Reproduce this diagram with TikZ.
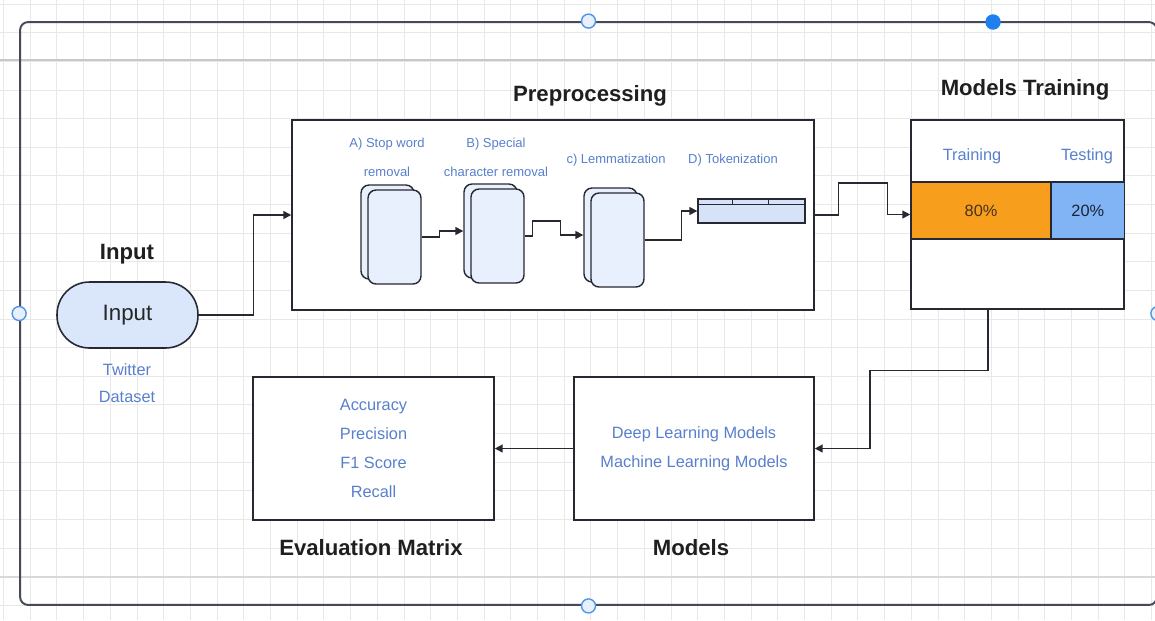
\documentclass[tikz,border=0pt]{standalone}
\usepackage{fontspec}
\setmainfont{Liberation Sans}
\usepackage{xcolor}
\definecolor{Stroke-dark}{RGB}{40, 40, 50}
\definecolor{Frame-gray}{RGB}{70, 74, 88}
\definecolor{Note-blue}{RGB}{88, 128, 205}
\definecolor{Doc-fill}{RGB}{232, 240, 253}
\definecolor{Input-fill}{RGB}{218, 230, 250}
\definecolor{Token-fill}{RGB}{214, 226, 248}
\definecolor{Train-orange}{RGB}{247, 158, 28}
\definecolor{Test-blue}{RGB}{128, 180, 245}
\definecolor{Handle-blue}{RGB}{30, 128, 240}
\definecolor{Handle-edge}{RGB}{80, 150, 230}
\definecolor{Grid-gray}{RGB}{232, 232, 232}
\definecolor{Page-gray}{RGB}{200, 200, 200}
\usepackage{tikz}
\usetikzlibrary{arrows.meta,positioning,calc}

\begin{document}
\begin{tikzpicture} [
    x=0.02cm, y=-0.02cm, >={Triangle[length=4.5pt,width=4.5pt]},
    flow/.style = {->,draw=Stroke-dark,line width=0.8pt},
    box/.style = {rectangle,draw=Stroke-dark,line width=0.9pt,fill=white},
    doc/.style = {rectangle,rounded corners=0.16cm,draw=Stroke-dark,line width=0.8pt,fill=Doc-fill,minimum width=1.06cm,minimum height=1.88cm},
    cell/.style = {rectangle,draw=Stroke-dark,line width=0.9pt,minimum height=1.14cm,font=\fontsize{9.3}{11}\selectfont},
    handle/.style = {circle,draw=Handle-edge,line width=0.8pt,fill=Doc-fill,minimum size=0.28cm,inner sep=0pt},
    title/.style = {font=\bfseries\fontsize{12.6}{15}\selectfont,text=black!88},
    note/.style = {text=Note-blue,align=center,font=\fontsize{9.3}{16.4}\selectfont},
    smallnote/.style = {text=Note-blue,align=center,font=\fontsize{7.4}{16.4}\selectfont}
    ]

    \useasboundingbox (0,0) rectangle (1155,620);
    \clip (0,0) rectangle (1155,620);
    \fill[white] (0,0) rectangle (1155,620);

    \foreach \gx in {0,...,43}
        \draw[Grid-gray,line width=0.5pt] (3.5+26.7*\gx, 0) -- ++(0,620);
    \foreach \gy in {0,...,21}
        \draw[Grid-gray,line width=0.5pt] (0, 4.1+28.63*\gy) -- ++(1155,0);
    \draw[Page-gray,line width=0.7pt] (0,60) -- (1155,60);
    \draw[Page-gray!70,line width=0.7pt] (0,577) -- (1155,577);

    \node (frame) [rectangle,rounded corners=0.16cm,draw=Frame-gray,line width=1.1pt,minimum width=22.74cm,minimum height=11.66cm] at (588.5,313.5) {};
    \foreach \a in {north,south,west,east}
        \node (h-\a) [handle] at (frame.\a) {};
    \node (h-sel) [handle,fill=Handle-blue,draw=Handle-blue] at (993,22) {};

    \node (input-title) [title] at (127,254) {Input};
    \node (input) [rectangle,rounded corners=0.65cm,draw=Stroke-dark,line width=0.9pt,fill=Input-fill,minimum width=2.82cm,minimum height=1.32cm,font=\fontsize{12.7}{15}\selectfont,text=black!85] at (127.5,315) {Input};
    \node (dataset) [note,font=\fontsize{9.3}{15.3}\selectfont] at (127,383.5) {Twitter\\Dataset};

    \node (pre-title) [title] at (590,96) {Preprocessing};
    \node (pre) [box,minimum width=10.44cm,minimum height=3.8cm] at (553,215) {};

    \def \stackx{{394.5,497.5,617.5}}
    \def \stacky{{237,236,240}}
    \foreach \i/\n in {0/A,1/B,2/C}
        {
            \node (doc\n b) [doc] at (\stackx[\i]-7, \stacky[\i]-5) {};
            \node (doc\n) [doc] at (\stackx[\i], \stacky[\i]) {};
        }

    \node (lab-A) [smallnote] at (387,157.5) {A) Stop word\\removal};
    \node (lab-B) [smallnote] at (496,157.5) {B) Special\\character removal};
    \node (lab-C) [smallnote] at (616,160) {c) Lemmatization};
    \node (lab-D) [smallnote] at (733,160) {D) Tokenization};

    \node (token) [rectangle,draw=Stroke-dark,line width=0.8pt,fill=Token-fill,minimum width=2.14cm,minimum height=0.48cm] at (751.5,211) {};
    \draw[Stroke-dark,line width=0.6pt] ($(token.north west)+(0,6)$) -- ($(token.north east)+(0,6)$);
    \draw[Stroke-dark,line width=0.6pt] ($(token.north west)+(35,0)$) -- ++(0,6);
    \draw[Stroke-dark,line width=0.6pt] ($(token.north west)+(71,0)$) -- ++(0,6);

    \node (mt-title) [title] at (1025,90) {Models Training};
    \node (mt) [box,minimum width=4.26cm,minimum height=3.78cm] at (1017.5,214.5) {};
    \node (train-lab) [note] at (972,156) {Training};
    \node (test-lab) [note] at (1087,156) {Testing};
    \node (train) [cell,fill=Train-orange,minimum width=2.8cm,text={rgb,255:red,70;green,50;blue,30}] at (981,210.5) {80\%};
    \node (test) [cell,fill=Test-blue,minimum width=1.47cm,text={rgb,255:red,25;green,35;blue,55}] at (1087.75,210.5) {20\%};

    \node (models) [box,note,minimum width=4.8cm,minimum height=2.86cm] at (694,448.5) {Deep Learning Models\\Machine Learning Models};
    \node (models-title) [title] at (691,548) {Models};

    \node (eval) [box,note,minimum width=4.82cm,minimum height=2.86cm] at (373.5,448.5) {Accuracy\\Precision\\F1 Score\\Recall};
    \node (eval-title) [title] at (371,548) {Evaluation Matrix};

    \draw[flow] (input.east) -- ++(55,0) |- (pre.west);
    \draw[flow] (docA.east) -- ++(18,0) |- (docBb.west);
    \draw[flow] (docB.east) -- ++(8,0) -- ++(0,-15) -- ++(28,0) |- (docCb.west);
    \draw[flow] (docC.east) -- ++(37,0) |- (token.west);
    \draw[flow] (pre.east) -- ++(24,0) -- ++(0,-32) -- ++(49,0) |- (mt.west);
    \draw[flow] ([xshift=-0.59cm]mt.south) -- ++(0,61) -- ++(-118,0) |- (models.east);
    \draw[flow] (models.west) -- (eval.east);

\end{tikzpicture}
\end{document}
